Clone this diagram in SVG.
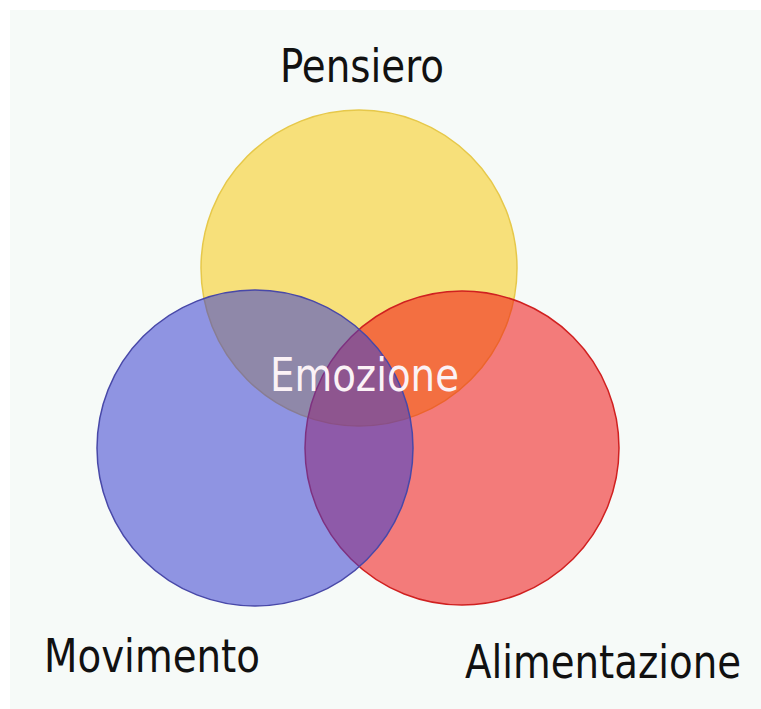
<svg xmlns="http://www.w3.org/2000/svg" width="761" height="709" viewBox="0 0 761 709">
<style>
.lbl{font-family:"DejaVu Sans","Liberation Sans",sans-serif;font-stretch:condensed;font-size:46px;fill:#111}
.emo{font-family:"DejaVu Sans","Liberation Sans",sans-serif;font-stretch:condensed;font-size:46px;fill:#fbf2f6}
</style>
<rect x="0" y="0" width="761" height="709" fill="#ffffff"/>
<rect x="10" y="10" width="751" height="699" fill="#f6faf8"/>
<g id="pensiero">
<circle cx="359" cy="268" r="158" fill="#f7e07a" stroke="#e6c84a" stroke-width="1.5"/>
<text class="lbl" x="280" y="82" textLength="164" lengthAdjust="spacingAndGlyphs">Pensiero</text>
</g>
<g id="alimentazione">
<circle cx="462" cy="448" r="157" fill="#f01212" fill-opacity="0.55" stroke="#d02020" stroke-width="1.5"/>
<text class="lbl" x="465" y="678" textLength="276" lengthAdjust="spacingAndGlyphs">Alimentazione</text>
</g>
<g id="movimento">
<circle cx="255" cy="448" r="158" fill="#3b3fd0" fill-opacity="0.55" stroke="#4848a8" stroke-width="1.5"/>
<text class="lbl" x="44" y="672" textLength="216" lengthAdjust="spacingAndGlyphs">Movimento</text>
</g>
<g id="emozione">
<text class="emo" x="270" y="391" textLength="189" lengthAdjust="spacingAndGlyphs">Emozione</text>
</g>
</svg>
